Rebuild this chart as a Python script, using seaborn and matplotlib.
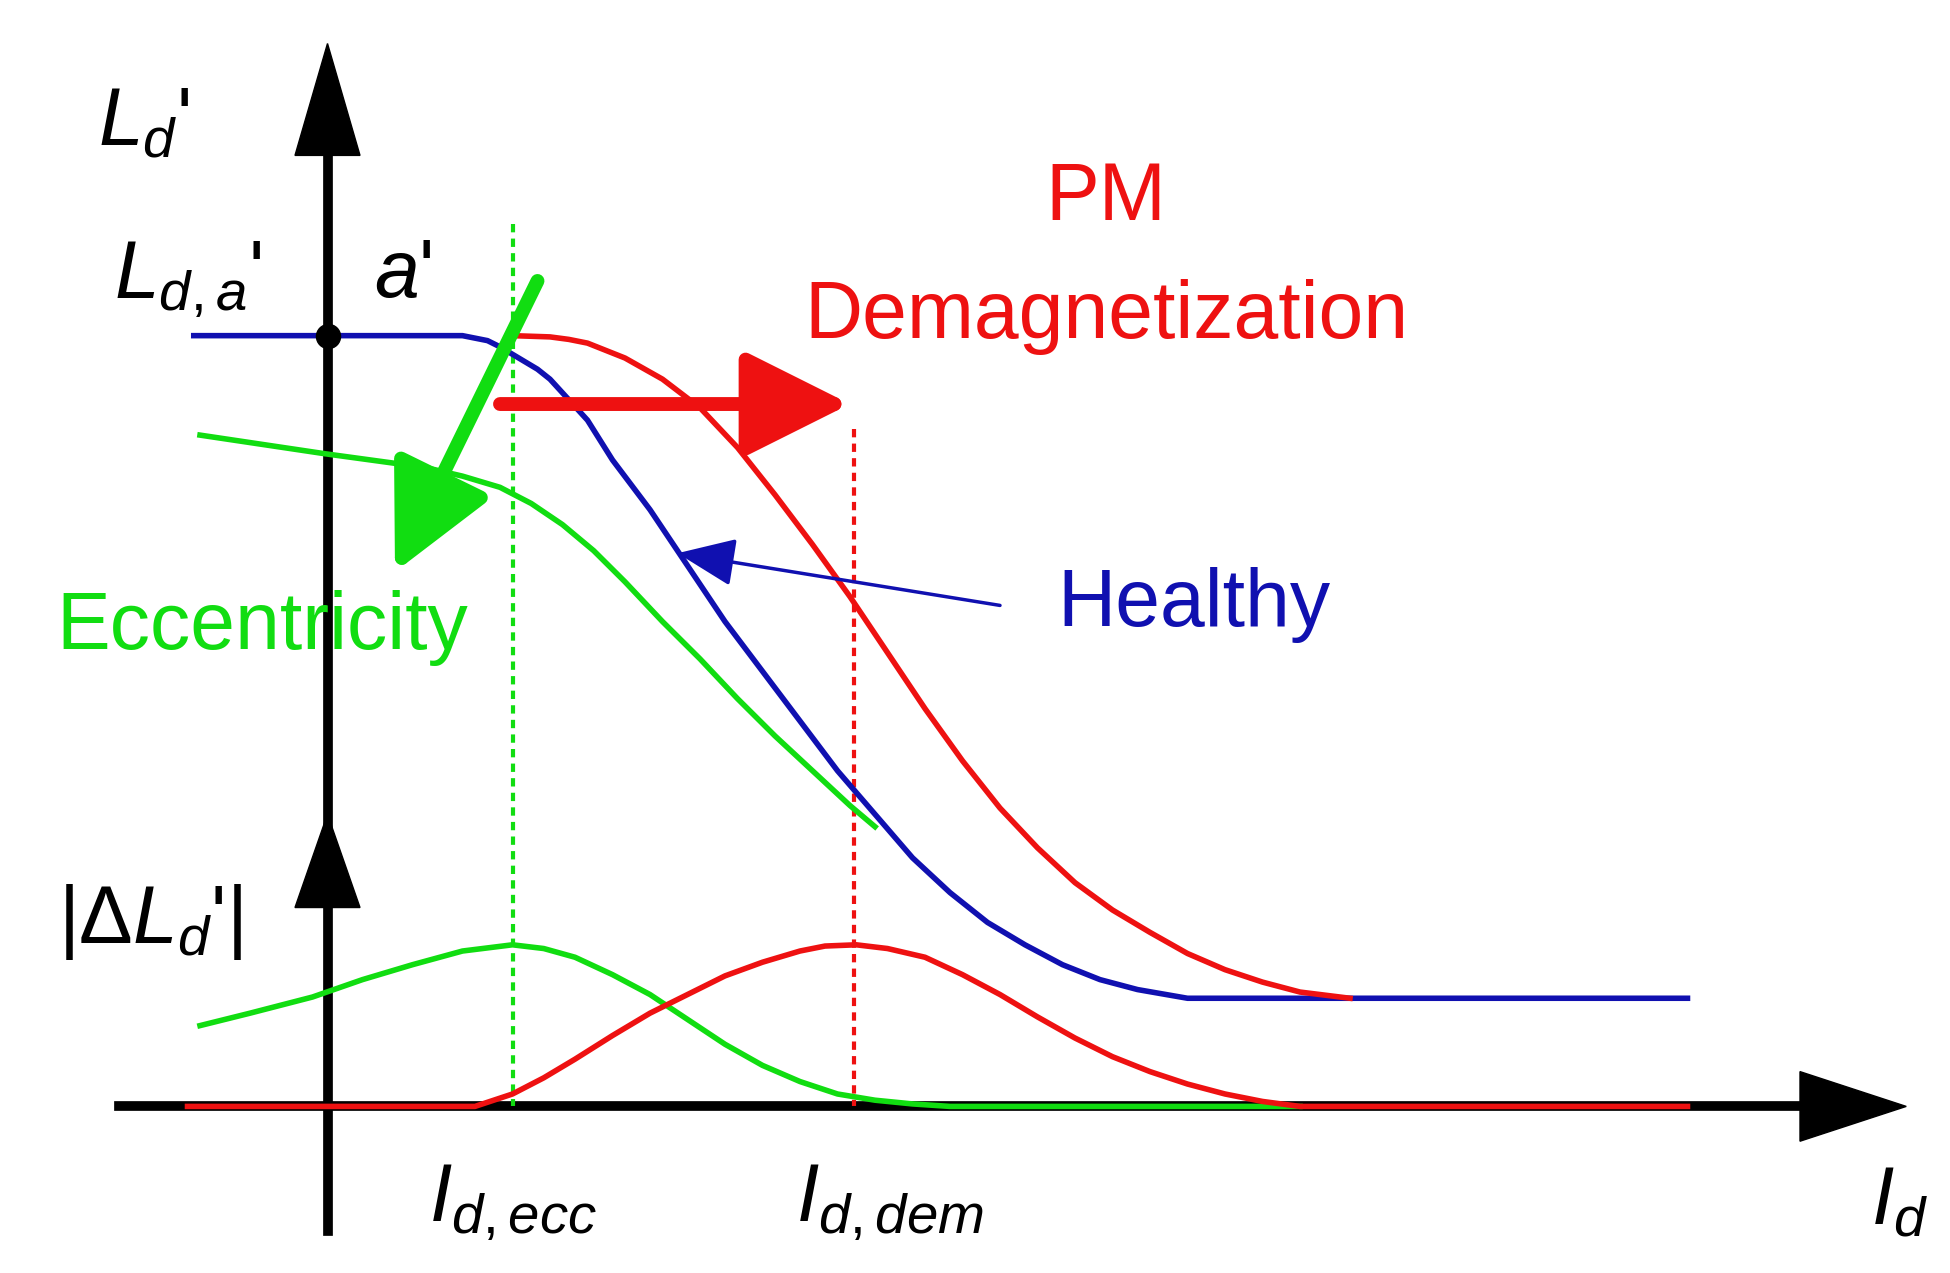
import numpy as np
import pandas as pd
import seaborn as sns
import matplotlib.pyplot as plt

plt.rcParams['font.family'] = ['Liberation Sans', 'DejaVu Sans']
plt.rcParams['mathtext.fontset'] = 'custom'
plt.rcParams['mathtext.rm'] = 'Liberation Sans'
plt.rcParams['mathtext.it'] = 'Liberation Sans:italic'

# curve samples (x right, y down, picture units)
healthy_x = [155, 370, 390, 400, 410, 430, 440, 470, 490, 520, 550, 580, 610, 640, 670, 700,
             730, 760, 790, 820, 850, 880, 910, 950, 1350]
healthy_y = [270, 270, 274, 279, 285, 297, 305, 338, 370, 410, 455, 500, 540, 580, 620, 655,
             690, 718, 742, 760, 776, 788, 796, 803, 803]
pm_x = [410, 440, 455, 470, 500, 530, 560, 590, 620, 650, 680, 710, 740, 770, 800, 830, 860,
        890, 920, 950, 980, 1010, 1040, 1080]
pm_y = [270, 271, 273, 276, 288, 305, 328, 360, 398, 438, 480, 525, 570, 612, 650, 682, 710,
        732, 750, 767, 780, 790, 798, 803]
ecc_x = [160, 260, 340, 370, 400, 425, 450, 475, 500, 530, 560, 590, 620, 650, 680, 700]
ecc_y = [350, 365, 376, 383, 392, 405, 422, 443, 468, 500, 530, 562, 592, 620, 648, 665]
d_ecc_x = [160, 200, 250, 290, 330, 370, 410, 435, 460, 490, 520, 550, 580, 610, 640, 670,
           700, 730, 760, 1040]
d_ecc_y = [825, 815, 802, 788, 776, 765, 760, 763, 770, 784, 800, 820, 840, 857, 870, 880,
           885, 888, 890, 890]
d_dem_x = [150, 380, 410, 435, 460, 490, 520, 550, 580, 610, 640, 660, 685, 710, 740, 770,
           800, 830, 860, 890, 920, 950, 980, 1010, 1040, 1350]
d_dem_y = [890, 890, 880, 867, 852, 833, 815, 800, 785, 774, 765, 761, 760, 763, 770, 784,
           800, 818, 835, 850, 862, 872, 880, 886, 890, 890]

BLUE, RED, GREEN = '#1010b0', '#ee1111', '#11dd11'

fig = plt.figure(figsize=(19.5, 12.73), dpi=100)
ax = fig.add_axes([0, 0, 1, 1])

# axes of the sketch
ax.plot([262, 262], [990, 110], color='black', lw=7, zorder=1)
ax.plot([95, 1450], [890, 890], color='black', lw=7, zorder=1)
ax.fill([262, 236, 288], [35, 125, 125], color='black', zorder=1)
ax.fill([262, 236, 288], [655, 730, 730], color='black', zorder=1)
ax.fill([1525, 1440, 1440], [890, 862, 918], color='black', zorder=1)

# dashed markers
ax.plot([410, 410], [180, 890], color=GREEN, lw=3, ls=(0, (2, 1.5)), zorder=2)
ax.plot([683, 683], [345, 890], color=RED, lw=3, ls=(0, (2, 1.5)), zorder=2)

curves = [(healthy_x, healthy_y, BLUE), (pm_x, pm_y, RED), (ecc_x, ecc_y, GREEN),
          (d_ecc_x, d_ecc_y, GREEN), (d_dem_x, d_dem_y, RED)]
for xs, ys, c in curves:
    df = pd.DataFrame({'x': xs, 'y': ys})
    sns.lineplot(data=df, x='x', y='y', color=c, lw=4, ax=ax, sort=False, zorder=3)
ax.axis('off')
ax.set_xlim(0, 1560)
ax.set_ylim(1024, 0)

ax.scatter([262], [270], s=300, color='black', zorder=5)

# arrows
ax.annotate('', xy=(680, 325), xytext=(400, 325),
            arrowprops=dict(arrowstyle='-|>,head_length=1.6,head_width=0.8', color=RED,
                            lw=10, mutation_scale=40, shrinkA=0, shrinkB=0))
ax.annotate('', xy=(316, 460), xytext=(430, 226),
            arrowprops=dict(arrowstyle='-|>,head_length=1.6,head_width=0.8', color=GREEN,
                            lw=10, mutation_scale=40, shrinkA=0, shrinkB=0))
ax.annotate('', xy=(542, 445), xytext=(800, 487),
            arrowprops=dict(arrowstyle='-|>,head_length=1.2,head_width=0.5', color=BLUE,
                            lw=2.5, mutation_scale=30, shrinkA=0, shrinkB=0))

fs = 58
ax.text(115, 100, r"$L_d$'", fontsize=fs, ha='center', va='center')
ax.text(150, 225, r"$L_{d,a}$'", fontsize=fs, ha='center', va='center')
ax.text(322, 222, r"$a$'", fontsize=fs, ha='center', va='center')
ax.text(885, 160, 'PM', fontsize=fs, color=RED, ha='center', va='center')
ax.text(885, 255, 'Demagnetization', fontsize=fs, color=RED, ha='center', va='center')
ax.text(955, 487, 'Healthy', fontsize=fs, color=BLUE, ha='center', va='center')
ax.text(210, 505, 'Eccentricity', fontsize=fs, color=GREEN, ha='center', va='center')
ax.text(120, 742, r"$|\Delta L_d$'$|$", fontsize=fs, ha='center', va='center')
ax.text(410, 968, r"$I_{d,ecc}$", fontsize=fs, ha='center', va='center')
ax.text(712, 968, r"$I_{d,dem}$", fontsize=fs, ha='center', va='center')
ax.text(1520, 968, r"$I_d$", fontsize=fs, ha='center', va='center')

fig.savefig('out.png', dpi=100)
